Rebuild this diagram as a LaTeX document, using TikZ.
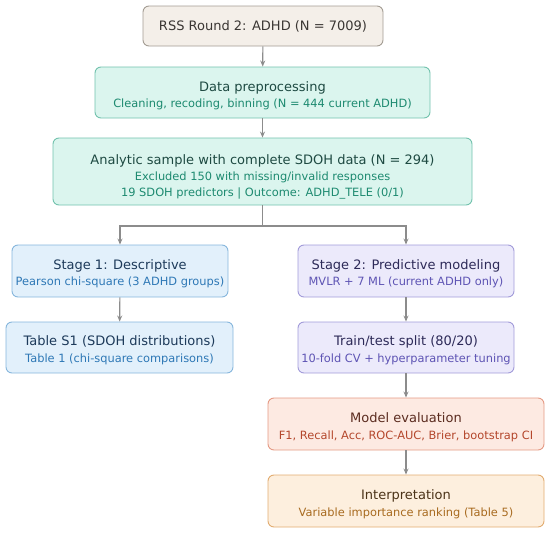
\documentclass[tikz,border=0pt]{standalone}
\usepackage{fontspec}
\setmainfont{DejaVu Sans}
\usetikzlibrary{arrows.meta}

\definecolor{rssfill}{HTML}{F4EFE9}
\definecolor{rssdraw}{HTML}{A39C93}
\definecolor{rsstext}{HTML}{3A3633}
\definecolor{mintfill}{HTML}{DBF5EE}
\definecolor{mintdraw}{HTML}{72C2AD}
\definecolor{minttext}{HTML}{1E4A42}
\definecolor{mintsub}{HTML}{1D8A70}
\definecolor{bluefill}{HTML}{E2F0FB}
\definecolor{bluedraw}{HTML}{86B6DC}
\definecolor{bluetext}{HTML}{1D3A5A}
\definecolor{bluesub}{HTML}{2E78B6}
\definecolor{lavfill}{HTML}{ECEAFB}
\definecolor{lavdraw}{HTML}{A29BD9}
\definecolor{lavtext}{HTML}{2D2A58}
\definecolor{lavsub}{HTML}{5E54B4}
\definecolor{redfill}{HTML}{FDEAE2}
\definecolor{reddraw}{HTML}{E59A84}
\definecolor{redtext}{HTML}{5B2C20}
\definecolor{redsub}{HTML}{B4472C}
\definecolor{orfill}{HTML}{FDEFDE}
\definecolor{ordraw}{HTML}{E2AC70}
\definecolor{ortext}{HTML}{4B3318}
\definecolor{orsub}{HTML}{A86B20}
\definecolor{arrgray}{HTML}{8C8C8C}

\newcommand{\subf}{\fontsize{11.4}{14}\selectfont}
% strut on the first line, pushes the text block down a bit
\newcommand{\tstrut}[1]{\rule{0pt}{#1}}

\begin{document}
\begin{tikzpicture}[x=1pt, y=-1pt,
	box/.style={draw, rounded corners=6pt, line width=0.9pt, align=center, inner sep=0pt,
		font=\fontsize{13}{16.5}\selectfont},
	arr/.style={draw=arrgray, line width=1.1pt, -{Stealth[length=6pt,width=5pt]}}]

	\useasboundingbox (0,0) rectangle (550,533);

%top
	\node[box, fill=rssfill, draw=rssdraw, text=rsstext, minimum width=240pt, minimum height=40pt]
		(rss) at (263, 26) {RSS Round 2: ADHD (N = 7009)};
	\node[box, fill=mintfill, draw=mintdraw, text=minttext, minimum width=335pt, minimum height=51pt]
		(prep) at (262.5, 92.5) {\tstrut{16pt}Data preprocessing\\{\subf\color{mintsub}Cleaning, recoding, binning (N = 444 current ADHD)}};
	\node[box, fill=mintfill, draw=mintdraw, text=minttext, minimum width=419pt, minimum height=67pt]
		(sample) at (262.5, 171.5) {\tstrut{20pt}Analytic sample with complete SDOH data (N = 294)\\{\subf\color{mintsub}Excluded 150 with missing/invalid responses}\\[-1pt]{\subf\color{mintsub}19 SDOH predictors | Outcome: ADHD\_TELE (0/1)}};

%stage 1
	\node[box, fill=bluefill, draw=bluedraw, text=bluetext, minimum width=216pt, minimum height=52pt]
		(stage1) at (120, 271) {\tstrut{15pt}Stage 1: Descriptive\\{\subf\color{bluesub}Pearson chi-square (3 ADHD groups)}};
	\node[box, fill=bluefill, draw=bluedraw, text=bluetext, minimum width=227pt, minimum height=51pt]
		(tabS1) at (119.5, 347.5) {\tstrut{15pt}Table S1 (SDOH distributions)\\{\subf\color{bluesub}Table 1 (chi-square comparisons)}};

%stage 2
	\node[box, fill=lavfill, draw=lavdraw, text=lavtext, minimum width=216pt, minimum height=52pt]
		(stage2) at (406, 271) {\tstrut{15pt}Stage 2: Predictive modeling\\{\subf\color{lavsub}MVLR + 7 ML (current ADHD only)}};
	\node[box, fill=lavfill, draw=lavdraw, text=lavtext, minimum width=216pt, minimum height=51pt]
		(split) at (406, 347.5) {\tstrut{15pt}Train/test split (80/20)\\{\subf\color{lavsub}10-fold CV + hyperparameter tuning}};
	\node[box, fill=redfill, draw=reddraw, text=redtext, minimum width=276pt, minimum height=52pt]
		(eval) at (406, 424) {\tstrut{16pt}Model evaluation\\{\subf\color{redsub}F1, Recall, Acc, ROC-AUC, Brier, bootstrap CI}};
	\node[box, fill=orfill, draw=ordraw, text=ortext, minimum width=276pt, minimum height=52pt]
		(interp) at (406, 501) {\tstrut{16pt}Interpretation\\{\subf\color{orsub}Variable importance ranking (Table 5)}};

%arrows
	\foreach \a/\b in {rss/prep, prep/sample, stage1/tabS1, stage2/split, split/eval, eval/interp}{
		\draw[arr] (\a) -- (\b);
	}

	\coordinate (fork) at (262.5, 226);
	\draw[draw=arrgray, line width=1.1pt] (sample) -- (fork);
	\draw[arr] (fork) -| (stage1);
	\draw[arr] (fork) -| (stage2);

\end{tikzpicture}
\end{document}
